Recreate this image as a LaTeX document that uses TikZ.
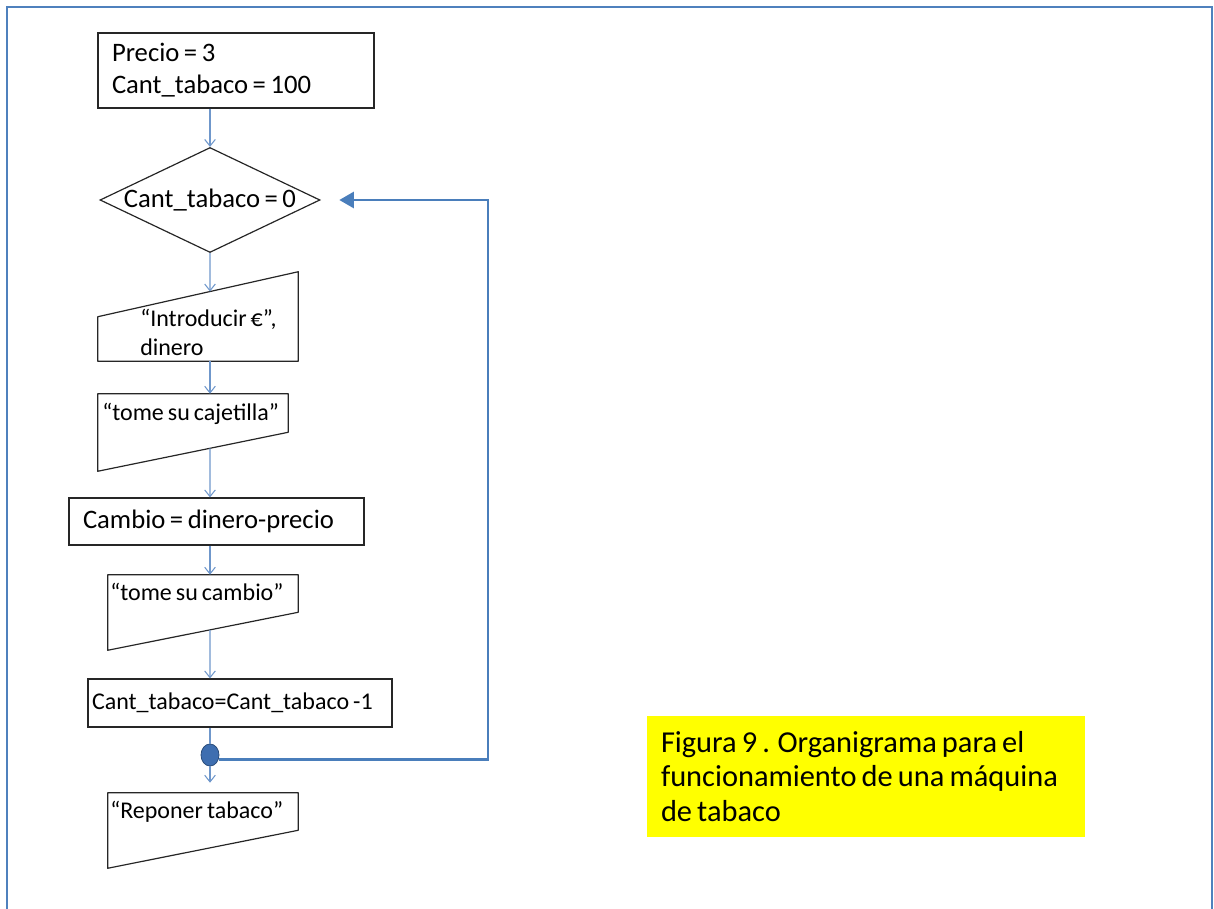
\documentclass[tikz,border=0pt]{standalone}
\usepackage{fontspec}
\setmainfont{Carlito}[WordSpace=0.75]
\usetikzlibrary{shapes.geometric,arrows.meta}

\definecolor{flowblue}{HTML}{6F97CB}
\definecolor{loopblue}{HTML}{4A7EBB}
\definecolor{dotblue}{HTML}{3E6EB0}
\definecolor{frameblue}{HTML}{4F81BD}
\definecolor{capyellow}{HTML}{FFFF00}

\tikzstyle{proc} = [rectangle, draw=black!85, line width=0.9pt, align=flush left]
\tikzstyle{dec} = [diamond, draw=black!85, line width=0.9pt, inner sep=0pt,
    minimum width=165pt, minimum height=78.75pt]
\tikzstyle{io} = [rectangle, inner sep=0pt]
\tikzstyle{outline} = [draw=black!85, line width=0.9pt, line join=round]
\tikzstyle{txt} = [anchor=base west, inner sep=0pt, align=left,
    font=\fontsize{18}{21}\selectfont]
\tikzstyle{flow} = [draw=flowblue, line width=0.8pt,
    -{Straight Barb[length=5pt,width=8pt]}]
\tikzstyle{ret} = [draw=loopblue, line width=2.2pt,
    -{Triangle[length=11pt,width=12pt]}]

\begin{document}
\begin{tikzpicture}[x=0.75pt,y=-0.75pt,font=\fontsize{20}{24}\selectfont]
  \useasboundingbox (0,0) rectangle (1214,909);
  \draw[frameblue, line width=2.2pt] (7,909) -- (7,7) -- (1212,7) -- (1212,909);

  \node[proc, text width=186pt, inner xsep=10.5pt, minimum height=56.25pt]
      (init) at (236,70.5) {Precio = 3\\Cant\_tabaco = 100};
  \node[dec] (test) at (210,200) {\makebox[0pt]{Cant\_tabaco = 0}};

  % entrada del dinero
  \node[io, minimum width=150pt, minimum height=66.75pt] (in1) at (198,316.5) {};
  \draw[outline] (in1.south west) -- (in1.south east) -- (in1.north east) coordinate (in1-tr)
      -- ([yshift=-33.75pt]in1.north west) coordinate (in1-tl) -- cycle;
  \node[txt] (in1-t) at (140,355) {“Introducir €”,\\dinero};

  \node[io, minimum width=142.5pt, minimum height=57.75pt] (out1) at (193,432.5) {};
  \draw[outline] (out1.north west) -- (out1.north east)
      -- ([yshift=29.25pt]out1.south east) coordinate (out1-br)
      -- (out1.south west) coordinate (out1-bl) -- cycle;
  \node[txt] (out1-t) at (102,420) {“tome su cajetilla”};

  \node[proc, text width=200.25pt, inner xsep=10.5pt, minimum height=35.25pt]
      (calc) at (216.5,521.5) {Cambio = dinero-precio};

  \node[io, minimum width=142.5pt, minimum height=56.25pt] (out2) at (203,612.5) {};
  \draw[outline] (out2.north west) -- (out2.north east)
      -- ([yshift=28.5pt]out2.south east) coordinate (out2-br)
      -- (out2.south west) coordinate (out2-bl) -- cycle;
  \node[txt] (out2-t) at (110,600) {“tome su cambio”};

  \node[proc, text width=222pt, inner xsep=3pt, minimum height=36pt,
      font=\fontsize{18}{22}\selectfont] (dec1) at (240,703) {Cant\_tabaco=Cant\_tabaco -1};

  \node[ellipse, fill=dotblue, draw=dotblue!70!black, line width=0.6pt, inner sep=0pt,
      minimum width=13.5pt, minimum height=16.5pt] (dot) at (210,755) {};

  % reponer
  \node[io, minimum width=142.5pt, minimum height=56.25pt] (out3) at (203,830.5) {};
  \draw[outline] (out3.north west) -- (out3.north east)
      -- ([yshift=28.5pt]out3.south east) -- (out3.south west) -- cycle;
  \node[txt] (out3-t) at (110,818) {“Reponer tabaco”};

  \node[fill=capyellow, text width=307.5pt, inner xsep=10.5pt, inner ysep=0pt,
      minimum height=90.75pt, align=flush left, font=\fontsize{22.8}{26}\selectfont]
      (cap) at (866,776.5) {Figura 9 . Organigrama para el funcionamiento de una máquina de tabaco};

  \coordinate (back) at (488,200);

  \draw[flow] (init.south -| test.north) -- (test.north);
  \draw[flow] (test.south) -- (intersection of test.south--test.north and in1-tl--in1-tr);
  \draw[flow] (in1.south -| test.south) -- (out1.north -| test.south);
  \draw[flow] (intersection of test.south--test.north and out1-bl--out1-br) -- (calc.north -| test.south);
  \draw[flow] (calc.south -| test.south) -- (out2.north -| test.south);
  \draw[flow] (intersection of test.south--test.north and out2-bl--out2-br) -- (dec1.north -| test.south);
  \draw[flowblue, line width=0.8pt] (dec1.south -| dot.north) -- (dot.north);
  \draw[flow, shorten >=7.5pt] (dot.south) -- (out3.north -| dot.south);
  \draw[ret, shorten >=14pt] (dot.-25) -| (back) -- (test.east);
\end{tikzpicture}
\end{document}
